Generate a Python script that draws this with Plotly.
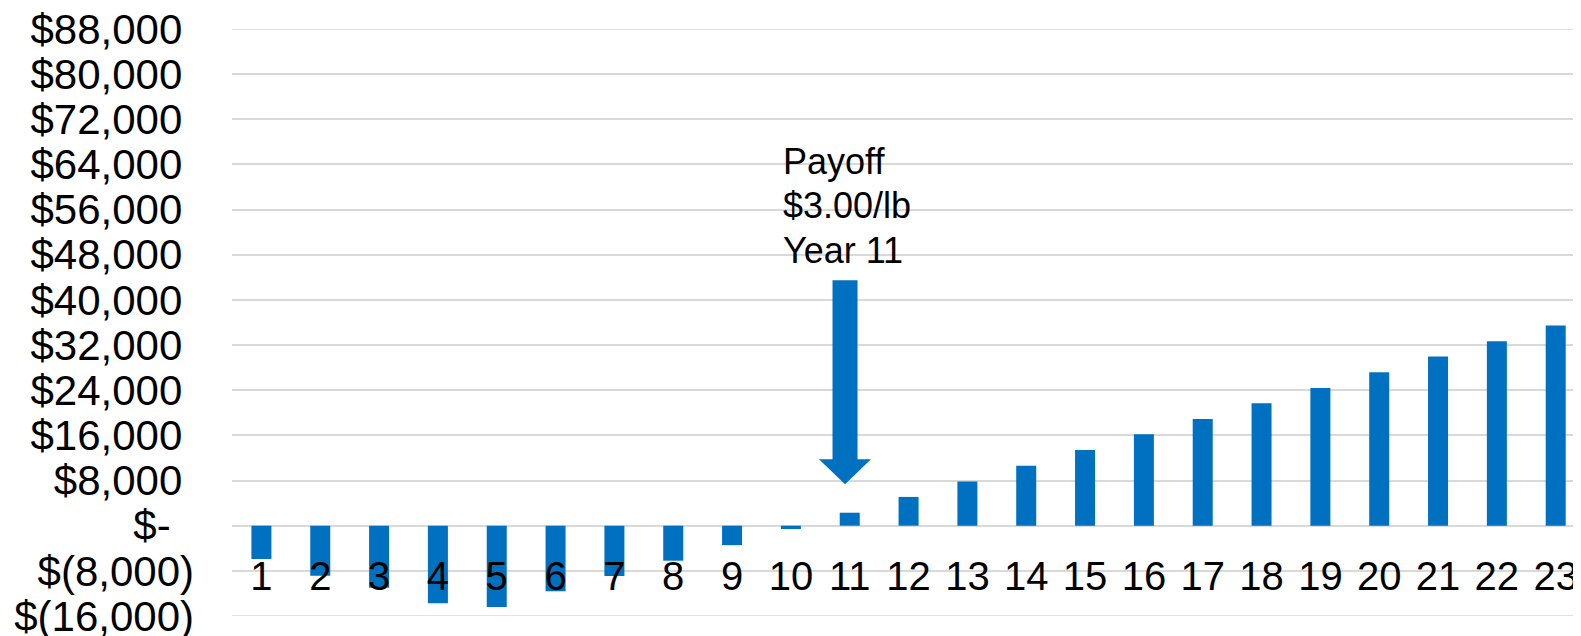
import plotly.graph_objects as go

# ---- data ----
years = list(range(1, 24))
year_labels = [str(y) for y in years]
cash_flow = [-5900, -8850, -11000, -13750, -14400, -11600, -8900, -6200, -3450, -600,
             2300, 5100, 7820, 10600, 13390, 16180, 18900, 21690, 24410, 27200,
             29980, 32690, 35450]
y_tickvals = [-16000, -8000, 0, 8000, 16000, 24000, 32000, 40000, 48000, 56000,
              64000, 72000, 80000, 88000]
# accounting-style labels: positives/zero padded where the ")" would be
y_ticktext = ["$(16,000)", "$(8,000)", "$-\u00a0\u00a0", "$8,000\u00a0", "$16,000\u00a0",
              "$24,000\u00a0", "$32,000\u00a0", "$40,000\u00a0", "$48,000\u00a0",
              "$56,000\u00a0", "$64,000\u00a0", "$72,000\u00a0", "$80,000\u00a0",
              "$88,000\u00a0"]
note_lines = ["Payoff", "$3.00/lb", "Year 11"]

BLUE = "#0070C0"
GRID = "#D9D9D9"
FONT = "Liberation Sans, Arial, sans-serif"

fig = go.Figure()
fig.add_trace(go.Bar(x=years, y=cash_flow, marker=dict(color=BLUE, line=dict(width=0)),
                     hoverinfo="skip"))

# gridlines at the two range ends (plotly skips grid lines on the plot edges)
for edge in (y_tickvals[0], y_tickvals[-1]):
    fig.add_shape(type="line", xref="paper", yref="y", x0=0, x1=1, y0=edge, y1=edge,
                  line=dict(color=GRID, width=1.5), layer="below")

# down arrow (annotation graphic) in data coordinates
ax_c = 10.92
shaft_hw = 0.2125
head_hw = 0.442
y_top, y_head, y_tip = 43500, 11770, 7340
path = (f"M {ax_c-shaft_hw},{y_top} L {ax_c+shaft_hw},{y_top} L {ax_c+shaft_hw},{y_head} "
        f"L {ax_c+head_hw},{y_head} L {ax_c},{y_tip} L {ax_c-head_hw},{y_head} "
        f"L {ax_c-shaft_hw},{y_head} Z")
fig.add_shape(type="path", path=path, xref="x", yref="y",
              fillcolor=BLUE, line=dict(width=0), layer="above")

note_y = [64600, 56800, 48800]
for txt, yy in zip(note_lines, note_y):
    fig.add_annotation(x=9.84, y=yy, xref="x", yref="y", text=txt,
                       showarrow=False, xanchor="left", yanchor="middle", align="left",
                       font=dict(family=FONT, size=36, color="#000000"))

# the page body adds an 8px offset; size the figure to fill the rest of the window
fig.update_layout(
    width=1573, height=628,
    margin=dict(l=224, r=0, t=21, b=20, pad=0, autoexpand=False),
    paper_bgcolor="white", plot_bgcolor="white",
    bargap=0.66, showlegend=False,
    font=dict(family=FONT, color="#000000"),
)
fig.update_xaxes(
    type="linear", range=[0.5, 23.43],
    tickmode="array", tickvals=years, ticktext=year_labels,
    tickfont=dict(family=FONT, size=40, color="#000000"),
    showgrid=False, zeroline=False, showline=False, ticks="",
    anchor="free", position=0.1135, automargin=False, ticklabeloverflow="allow",
)
fig.update_yaxes(
    range=[-16000, 88000],
    tickmode="array", tickvals=y_tickvals, ticktext=y_ticktext,
    tickfont=dict(family=FONT, size=42, color="#000000"),
    showgrid=True, gridcolor=GRID, gridwidth=1.5,
    zeroline=False, showline=False, ticks="", ticklabelstandoff=37,
    automargin=False, ticklabeloverflow="allow",
)

fig.write_html("out.html")
